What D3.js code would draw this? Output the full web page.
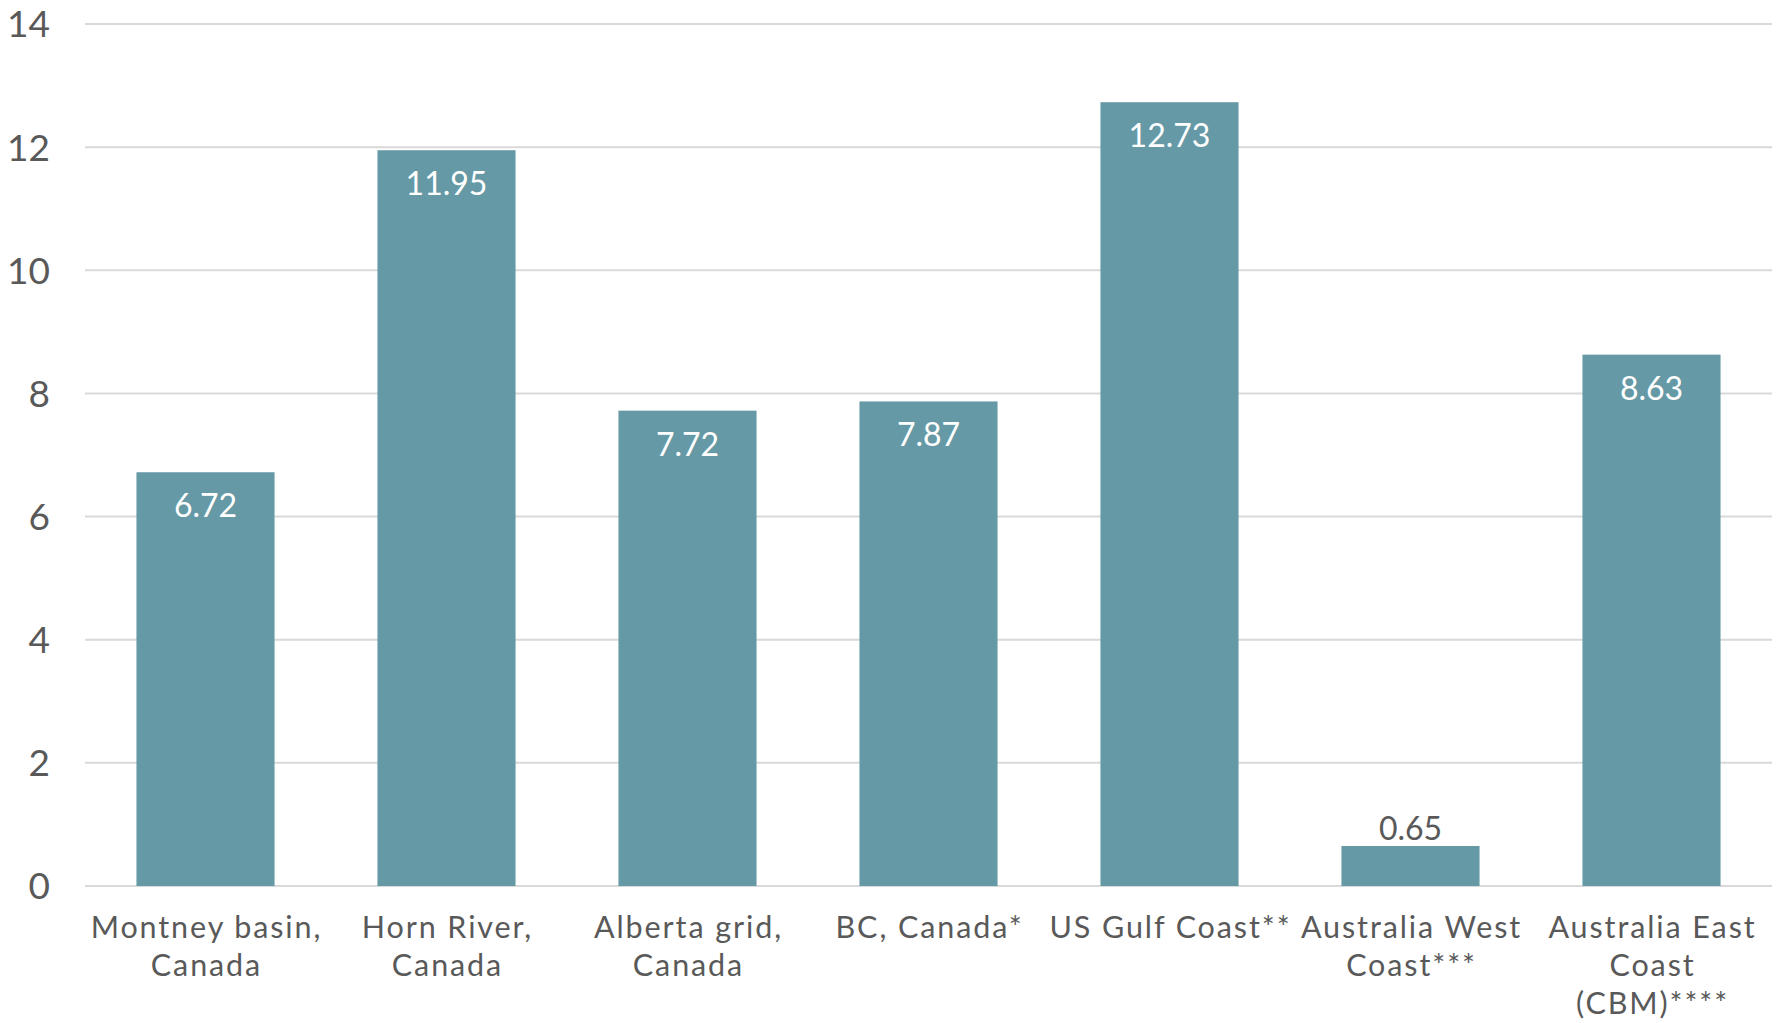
<!DOCTYPE html>
<html>
<head>
<meta charset="utf-8">
<script src="https://cdn.jsdelivr.net/npm/d3@7"></script>
<style>
  html, body { margin: 0; padding: 0; background: #ffffff; }
  svg { display: block; }
  text { font-family: "Lato", "DejaVu Sans", sans-serif; }
</style>
</head>
<body>
<svg id="chart" width="1779" height="1023"></svg>
<script>
// Chart data
const categories = [
  "Montney basin,\nCanada",
  "Horn River,\nCanada",
  "Alberta grid,\nCanada",
  "BC, Canada*",
  "US Gulf Coast**",
  "Australia West\nCoast***",
  "Australia East\nCoast\n(CBM)****"
];
const values = [6.72, 11.95, 7.72, 7.87, 12.73, 0.65, 8.63];
const yTicks = [0, 2, 4, 6, 8, 10, 12, 14];

const W = 1779, H = 1023;
const margin = { left: 85, right: 7, top: 24, bottom: 137 };

const svg = d3.select("#chart");

const x = d3.scaleBand()
  .domain(categories)
  .range([margin.left, W - margin.right])
  .paddingInner(0.427)
  .paddingOuter(0.2135);

const y = d3.scaleLinear()
  .domain([0, 14])
  .range([H - margin.bottom, margin.top]);

// Horizontal gridlines
svg.append("g")
  .selectAll("line")
  .data(yTicks)
  .join("line")
  .attr("x1", margin.left)
  .attr("x2", W - margin.right)
  .attr("y1", d => y(d))
  .attr("y2", d => y(d))
  .attr("stroke", "#d9d9d9")
  .attr("stroke-width", 2);

// Y axis labels
const yAxis = d3.axisLeft(y).tickValues(yTicks).tickSize(0).tickPadding(0);
const gy = svg.append("g")
  .attr("transform", `translate(50,0)`)
  .call(yAxis);
gy.select(".domain").remove();
gy.selectAll("text")
  .attr("fill", "#595959")
  .style("font-size", "37px")
  .attr("dy", "0.35em");

// Bars
svg.append("g")
  .selectAll("rect")
  .data(values)
  .join("rect")
  .attr("x", (d, i) => x(categories[i]))
  .attr("width", x.bandwidth())
  .attr("y", d => y(d))
  .attr("height", d => y(0) - y(d))
  .attr("fill", "#6699a6");

// Value labels: inside the bar top, or above it when the bar is short
const fmt = d3.format(".2f");
svg.append("g")
  .selectAll("text")
  .data(values)
  .join("text")
  .attr("x", (d, i) => x(categories[i]) + x.bandwidth() / 2)
  .attr("y", d => (y(0) - y(d) > 60) ? y(d) + 45 : y(d) - 6)
  .attr("text-anchor", "middle")
  .attr("fill", d => (y(0) - y(d) > 60) ? "#ffffff" : "#595959")
  .style("font-size", "32px")
  .text(d => fmt(d));

// Category labels
const gx = svg.append("g");
categories.forEach((c, i) => {
  const cx = x(c) + x.bandwidth() / 2 + 1;
  const t = gx.append("text")
    .attr("x", cx)
    .attr("y", 938)
    .attr("text-anchor", "middle")
    .attr("fill", "#595959")
    .style("font-size", "30.5px")
    .style("letter-spacing", "1.9px");
  c.split("\n").forEach((line, j) => {
    t.append("tspan")
      .attr("x", cx)
      .attr("dy", j === 0 ? 0 : 38)
      .text(line);
  });
});
</script>
</body>
</html>
